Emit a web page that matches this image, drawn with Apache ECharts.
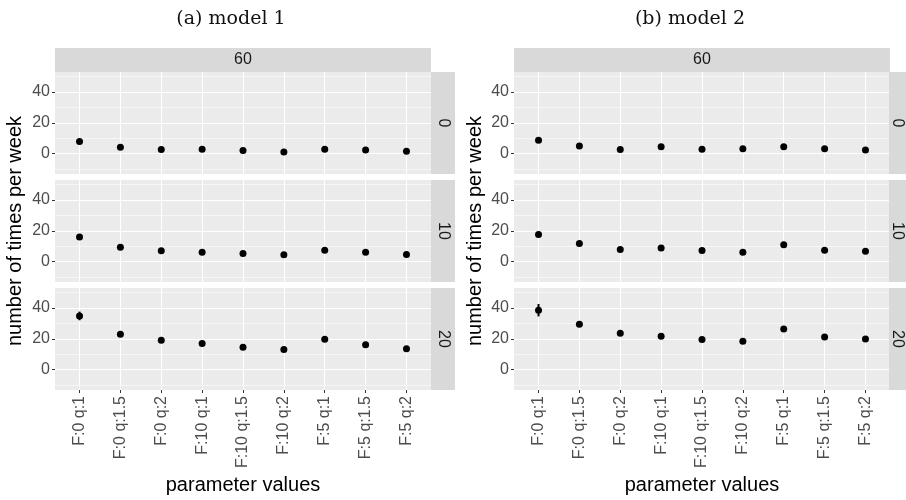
<!DOCTYPE html>
<html>
<head>
<meta charset="utf-8">
<script src="https://cdn.jsdelivr.net/npm/echarts@6/dist/echarts.min.js"></script>
<style>html,body{margin:0;padding:0;background:#fff}#c{width:906px;height:500px}</style>
</head>
<body>
<div id="c"></div>
<script>
const categories = ['F:0 q:1','F:0 q:1.5','F:0 q:2','F:10 q:1','F:10 q:1.5','F:10 q:2','F:5 q:1','F:5 q:1.5','F:5 q:2'];
const rowLabels = ['0','10','20'];
const colLabel = '60';
const panelTitles = ['(a) model 1','(b) model 2'];
const yTitle = 'number of times per week';
const xTitle = 'parameter values';
const yTicks = [0, 20, 40];
const yMinor = [-10, 10, 30, 50];

// model 1 (rows 0, 10, 20)
const m1_r0  = [7.8, 4.1, 2.6, 2.8, 2.0, 1.1, 2.8, 2.4, 1.5];
const m1_r10 = [15.9, 9.3, 7.0, 6.1, 5.2, 4.4, 7.4, 6.1, 4.6];
const m1_r20 = [34.8, 22.9, 19.0, 16.9, 14.5, 13.0, 19.7, 16.2, 13.6];
// model 2
const m2_r0  = [8.7, 5.0, 2.6, 4.4, 2.9, 3.1, 4.5, 3.1, 2.4];
const m2_r10 = [17.6, 11.7, 7.8, 8.9, 7.2, 6.1, 10.9, 7.4, 6.7];
const m2_r20 = [38.5, 29.4, 23.6, 21.6, 19.5, 18.4, 26.4, 21.2, 19.9];
// error bars: [category index, low, high]
const m1_r20_err = [[0, 32.0, 37.6]];
const m2_r20_err = [[0, 34.5, 42.5]];

const models = [[m1_r0, m1_r10, m1_r20], [m2_r0, m2_r10, m2_r20]];
const errs = [[[], [], m1_r20_err], [[], [], m2_r20_err]];

const FONT = 'Liberation Sans';
const yMin = -13.2, yMax = 52.9;
const panelLeft = [55, 514];
const panelW = 376;
const rowTop = [72, 180, 288];
const rowH = 102;
const catIdx = categories.map((c, i) => i);

const grid = [], xAxis = [], yAxis = [], series = [], graphic = [];
let k = 0;
for (let p = 0; p < 2; p++) {
  for (let r = 0; r < 3; r++) {
    grid.push({left: panelLeft[p], top: rowTop[r], width: panelW, height: rowH,
      show: true, backgroundColor: '#ebebeb', borderWidth: 0, containLabel: false});
    const bottom = r === 2;
    xAxis.push({type: 'value', gridIndex: k, min: -0.6, max: 8.6, position: 'bottom',
      axisLine: {show: false, onZero: false},
      axisTick: {show: bottom, customValues: catIdx, length: 3, lineStyle: {color: '#333', width: 1}},
      axisLabel: {show: bottom, customValues: catIdx, rotate: 90, formatter: v => categories[v],
        color: '#4d4d4d', fontSize: 16, fontFamily: FONT, margin: 6},
      splitLine: {show: true, lineStyle: {color: '#ffffff', width: 1.1}}
    });
    yAxis.push({type: 'value', gridIndex: k, min: yMin, max: yMax, position: 'left',
      axisLine: {show: false, onZero: false},
      axisTick: {show: true, customValues: yTicks, length: 3, lineStyle: {color: '#333', width: 1}},
      axisLabel: {customValues: yTicks, color: '#4d4d4d', fontSize: 16, fontFamily: FONT, margin: 5},
      splitLine: {show: true, lineStyle: {color: '#ffffff', width: 1.1}}
    });
    yAxis.push({type: 'value', gridIndex: k, min: yMin, max: yMax, position: 'left',
      axisLine: {show: false, onZero: false},
      axisTick: {show: false, customValues: yMinor},
      axisLabel: {show: false},
      splitLine: {show: true, lineStyle: {color: '#ffffff', width: 0.55}}
    });
    if (errs[p][r].length) {
      series.push({type: 'custom', xAxisIndex: k, yAxisIndex: 2 * k, z: 3,
        data: errs[p][r],
        renderItem: (params, api) => {
          const x = api.value(0);
          const lo = api.coord([x, api.value(1)]);
          const hi = api.coord([x, api.value(2)]);
          return {type: 'line', shape: {x1: lo[0], y1: lo[1], x2: hi[0], y2: hi[1]},
            style: {stroke: '#000', lineWidth: 2}};
        }
      });
    }
    series.push({type: 'scatter', xAxisIndex: k, yAxisIndex: 2 * k, z: 4,
      symbolSize: 7, itemStyle: {color: '#000', opacity: 1},
      data: models[p][r].map((v, i) => [i, v])});
    // right strip
    const sx = p === 0 ? 431 : 889;
    graphic.push({type: 'rect', shape: {x: sx, y: rowTop[r], width: 24, height: rowH}, style: {fill: '#d9d9d9'}, z: 1});
    graphic.push({type: 'text', x: p === 0 ? 443 : 897, y: rowTop[r] + rowH / 2, rotation: -Math.PI / 2,
      style: {text: rowLabels[r], fill: '#1a1a1a', font: '16px ' + FONT, align: 'center', verticalAlign: 'middle'}, z: 2});
    k++;
  }
  // top strip
  graphic.push({type: 'rect', shape: {x: panelLeft[p], y: 48, width: panelW, height: 24}, style: {fill: '#d9d9d9'}, z: 1});
  graphic.push({type: 'text', x: panelLeft[p] + panelW / 2, y: 60,
    style: {text: colLabel, fill: '#1a1a1a', font: '16px ' + FONT, align: 'center', verticalAlign: 'middle'}, z: 2});
  // titles
  graphic.push({type: 'text', x: p === 0 ? 231 : 690, y: 19,
    style: {text: panelTitles[p], fill: '#111', font: '19px "DejaVu Serif"', align: 'center', verticalAlign: 'middle'}, z: 2});
  graphic.push({type: 'text', x: p === 0 ? 15 : 475, y: 231, rotation: Math.PI / 2,
    style: {text: yTitle, fill: '#000', font: '20px ' + FONT, align: 'center', verticalAlign: 'middle'}, z: 2});
  graphic.push({type: 'text', x: panelLeft[p] + panelW / 2, y: 485,
    style: {text: xTitle, fill: '#000', font: '20px ' + FONT, align: 'center', verticalAlign: 'middle'}, z: 2});
}

const chart = echarts.init(document.getElementById('c'), null, {renderer: 'canvas'});
chart.setOption({animation: false, backgroundColor: '#fff', grid, xAxis, yAxis, series, graphic});
</script>
</body>
</html>
